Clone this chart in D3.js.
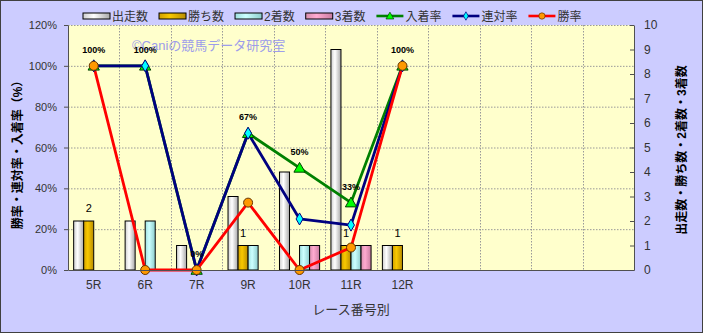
<!DOCTYPE html>
<html>
<head>
<meta charset="utf-8">
<script src="https://cdn.jsdelivr.net/npm/d3@7"></script>
<style>
body { margin: 0; }
svg { display: block; font-family: "Liberation Sans", "Noto Sans CJK JP", sans-serif; }
</style>
</head>
<body>
<svg id="chart"></svg>
<script>
// race data
const races = ["5R", "6R", "7R", "9R", "10R", "11R", "12R"];
const slotCount = 11;
const starts = [2, 2, 1, 3, 4, 9, 1];
const wins = [2, 0, 0, 1, 0, 1, 1];
const seconds = [0, 2, 0, 1, 1, 1, 0];
const thirds = [0, 0, 0, 0, 1, 1, 0];
const placeRate = [100, 100, 0, 67, 50, 33, 100];
const quinellaRate = [100, 100, 0, 67, 25, 22, 100];
const winRate = [100, 0, 0, 33, 0, 11, 100];
const pctTicks = [0, 20, 40, 60, 80, 100, 120];
const countTicks = [0, 1, 2, 3, 4, 5, 6, 7, 8, 9, 10];

const width = 703, height = 333;
const plot = { left: 68, right: 634, top: 25, bottom: 270 };

const svg = d3.select("#chart").attr("width", width).attr("height", height);

// background + frame
svg.append("rect").attr("x", 0.5).attr("y", 0.5)
	.attr("width", width - 1).attr("height", height - 1)
	.attr("fill", "#ccccff").attr("stroke", "#404040");
svg.append("rect").attr("x", plot.left).attr("y", plot.top)
	.attr("width", plot.right - plot.left).attr("height", plot.bottom - plot.top)
	.attr("fill", "#ffffcc");

const x = d3.scaleBand().domain(d3.range(slotCount)).range([plot.left, plot.right]);
const yL = d3.scaleLinear().domain([0, 120]).range([plot.bottom, plot.top]);
const yR = d3.scaleLinear().domain([0, 10]).range([plot.bottom, plot.top]);
const cx = i => x(i) + x.bandwidth() / 2;

// gradients for the bars
const defs = svg.append("defs");
const barStyles = [
	{ id: "gStarts", stops: ["#cfcfcf", "#ffffff", "#a8a8a8"] },
	{ id: "gWins", stops: ["#d0a000", "#f8c800", "#b88c00"] },
	{ id: "gSeconds", stops: ["#a0e0e0", "#ccffff", "#8ccccc"] },
	{ id: "gThirds", stops: ["#d890b0", "#ffaad0", "#c87ca0"] }
];
barStyles.forEach(b => {
	const g = defs.append("linearGradient").attr("id", b.id)
		.attr("x1", "0%").attr("x2", "100%").attr("y1", "0%").attr("y2", "0%");
	g.append("stop").attr("offset", "0%").attr("stop-color", b.stops[0]);
	g.append("stop").attr("offset", "40%").attr("stop-color", b.stops[1]);
	g.append("stop").attr("offset", "100%").attr("stop-color", b.stops[2]);
});

// gridlines
const grid = svg.append("g").attr("stroke", "#999").attr("stroke-dasharray", "1.5,1.5");
pctTicks.filter(d => d > 0).forEach(d => {
	grid.append("line").attr("x1", plot.left).attr("x2", plot.right)
		.attr("y1", yL(d) + 0.5).attr("y2", yL(d) + 0.5);
});
d3.range(1, slotCount).forEach(i => {
	grid.append("line").attr("x1", Math.round(x(i)) + 0.5).attr("x2", Math.round(x(i)) + 0.5)
		.attr("y1", plot.top).attr("y2", plot.bottom);
});

// watermark
svg.append("text").attr("x", 132).attr("y", 50)
	.attr("font-size", 13).attr("fill", "#8c8cf0").attr("opacity", 0.85)
	.text("©Caniの競馬データ研究室");

// bars
const barSeries = [starts, wins, seconds, thirds];
const groupW = x.bandwidth() * 0.78;
const barW = groupW / barSeries.length;
barSeries.forEach((vals, j) => {
	svg.append("g").selectAll("rect")
		.data(vals.map((v, i) => ({ v, i })).filter(d => d.v > 0))
		.enter().append("rect")
		.attr("x", d => x(d.i) + (x.bandwidth() - groupW) / 2 + j * barW)
		.attr("y", d => yR(d.v))
		.attr("width", barW)
		.attr("height", d => yR(0) - yR(d.v))
		.attr("fill", `url(#${barStyles[j].id})`)
		.attr("stroke", "#000").attr("stroke-width", 1);
});

// lines
const lineSeries = [
	{ vals: placeRate, color: "#008000", marker: "tri" },
	{ vals: quinellaRate, color: "#000080", marker: "dia" },
	{ vals: winRate, color: "#ff0000", marker: "dot" }
];
function drawMarker(g, kind, px, py) {
	if (kind === "tri") {
		g.append("path").attr("d", d3.symbol(d3.symbolTriangle, 55)())
			.attr("transform", `translate(${px},${py + 1})`)
			.attr("fill", "#00ff00").attr("stroke", "#004000").attr("stroke-width", 1);
	} else if (kind === "dia") {
		g.append("path").attr("d", d3.symbol(d3.symbolDiamond, 42)())
			.attr("transform", `translate(${px},${py})`)
			.attr("fill", "#00ffff").attr("stroke", "#000080").attr("stroke-width", 1);
	} else {
		g.append("circle").attr("cx", px).attr("cy", py).attr("r", 4.5)
			.attr("fill", "#ff9900").attr("stroke", "#663300").attr("stroke-width", 1);
	}
}
const line = d3.line().x((d, i) => cx(i)).y(d => yL(d));
lineSeries.forEach(s => {
	svg.append("path").datum(s.vals)
		.attr("fill", "none").attr("stroke", s.color)
		.attr("stroke-width", 2.8).attr("stroke-linejoin", "round")
		.attr("d", line);
});
lineSeries.forEach(s => {
	const g = svg.append("g");
	s.vals.forEach((v, i) => drawMarker(g, s.marker, cx(i), yL(v)));
});

// data labels
svg.append("g").selectAll("text")
	.data(placeRate).enter().append("text")
	.attr("x", (d, i) => cx(i)).attr("y", d => yL(d) - 13)
	.attr("text-anchor", "middle").attr("font-size", 9).attr("font-weight", "bold")
	.text(d => d + "%");
svg.append("g").selectAll("text")
	.data(wins.map((v, i) => ({ v, i })).filter(d => d.v > 0)).enter().append("text")
	.attr("x", d => x(d.i) + (x.bandwidth() - groupW) / 2 + 1.5 * barW)
	.attr("y", d => yR(d.v) - 9)
	.attr("text-anchor", "middle").attr("font-size", 11)
	.text(d => d.v);

// axes
const axisColor = "#505050";
const gL = svg.append("g").attr("transform", `translate(${plot.left},0)`)
	.call(d3.axisLeft(yL).tickValues(pctTicks).tickFormat(d => d + "%").tickSizeInner(4).tickSizeOuter(0).tickPadding(7));
const gR = svg.append("g").attr("transform", `translate(${plot.right},0)`)
	.call(d3.axisRight(yR).tickValues(countTicks).tickSizeInner(-4).tickSizeOuter(0).tickPadding(10));
const gB = svg.append("g").attr("transform", `translate(0,${plot.bottom})`)
	.call(d3.axisBottom(x).tickFormat(i => races[i] || "").tickSize(0).tickPadding(10));
[gL, gR, gB].forEach(g => {
	g.selectAll("path, line").attr("stroke", axisColor);
	g.selectAll("text").attr("fill", "#333").attr("font-family", null);
});
gL.selectAll("text").attr("font-size", 11);
gR.selectAll("text").attr("font-size", 12);
gB.selectAll("text").attr("font-size", 12);

// axis titles
svg.append("text").attr("transform", "translate(22,152) rotate(-90)")
	.attr("text-anchor", "middle").attr("font-size", 12).attr("font-weight", "bold")
	.text("勝率・連対率・入着率（%）");
svg.append("text").attr("transform", "translate(686,150) rotate(-90)")
	.attr("text-anchor", "middle").attr("font-size", 12).attr("font-weight", "bold")
	.text("出走数・勝ち数・2着数・3着数");
svg.append("text").attr("x", (plot.left + plot.right) / 2).attr("y", 314)
	.attr("text-anchor", "middle").attr("font-size", 13).attr("fill", "#333")
	.text("レース番号別");

// legend
const legendItems = [
	{ name: "出走数", bar: 0 }, { name: "勝ち数", bar: 1 },
	{ name: "2着数", bar: 2 }, { name: "3着数", bar: 3 },
	{ name: "入着率", line: 0 }, { name: "連対率", line: 1 }, { name: "勝率", line: 2 }
];
const legend = svg.append("g");
let lx = 83;
const ly = 16;
legendItems.forEach(item => {
	if (item.bar !== undefined) {
		legend.append("rect").attr("x", lx).attr("y", ly - 3).attr("width", 27).attr("height", 6)
			.attr("fill", `url(#${barStyles[item.bar].id})`).attr("stroke", "#000");
	} else {
		const s = lineSeries[item.line];
		legend.append("line").attr("x1", lx).attr("x2", lx + 27).attr("y1", ly).attr("y2", ly)
			.attr("stroke", s.color).attr("stroke-width", 2.6);
		const mg = legend.append("g");
		drawMarker(mg, s.marker, lx + 13.5, ly);
		mg.attr("transform", `translate(${lx + 13.5},${ly}) scale(0.7) translate(${-(lx + 13.5)},${-ly})`);
	}
	const t = legend.append("text").attr("x", lx + 29).attr("y", ly + 4.5)
		.attr("font-size", 12).attr("fill", "#333").text(item.name);
	lx += 29 + t.node().getComputedTextLength() + 11;
});
</script>
</body>
</html>
